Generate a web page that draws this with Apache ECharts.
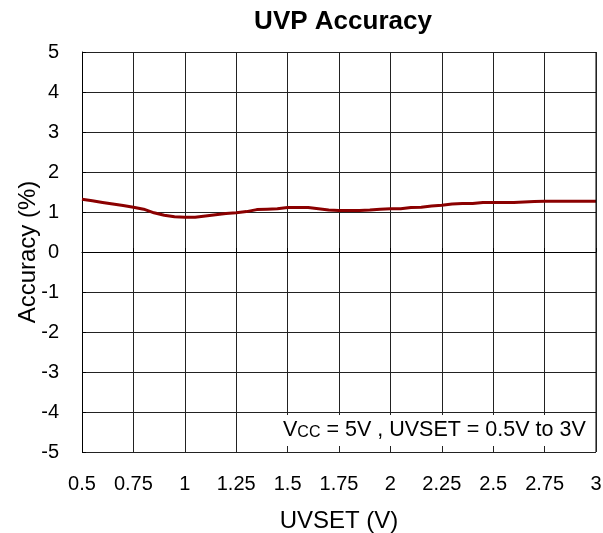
<!DOCTYPE html>
<html>
<head>
<meta charset="utf-8">
<style>
  html, body { margin: 0; padding: 0; background: #fff; }
  #chart { width: 603px; height: 533px; }
</style>
<script src="https://cdn.jsdelivr.net/npm/echarts@6/dist/echarts.min.js"></script>
</head>
<body>
<div id="chart"></div>
<script>
// UVSET 设定电压 (V)
var uvset = [
  0.5, 0.55, 0.6, 0.65, 0.7, 0.75, 0.8, 0.85, 0.9, 0.95,
  1.0, 1.05, 1.1, 1.15, 1.2, 1.25, 1.3, 1.35, 1.4, 1.45,
  1.5, 1.55, 1.6, 1.65, 1.7, 1.75, 1.8, 1.85, 1.9, 1.95,
  2.0, 2.05, 2.1, 2.15, 2.2, 2.25, 2.3, 2.35, 2.4, 2.45,
  2.5, 2.55, 2.6, 2.65, 2.7, 2.75, 2.8, 2.85, 2.9, 2.95, 3.0
];
// 精度 (%)
var accuracy = [
  1.32, 1.28, 1.24, 1.2, 1.16, 1.12, 1.07, 0.98, 0.92, 0.88,
  0.87, 0.87, 0.9, 0.93, 0.96, 0.98, 1.01, 1.06, 1.07, 1.08,
  1.11, 1.11, 1.11, 1.08, 1.05, 1.04, 1.04, 1.04, 1.05, 1.07,
  1.08, 1.08, 1.11, 1.12, 1.15, 1.17, 1.2, 1.21, 1.21, 1.24,
  1.24, 1.24, 1.24, 1.25, 1.26, 1.27, 1.27, 1.27, 1.27, 1.27, 1.27
];

var font = "'Liberation Sans', Arial, sans-serif";
var chart = echarts.init(document.getElementById("chart"));

chart.setOption({
  animation: false,
  title: {
    text: "UVP Accuracy",
    left: 338,
    textAlign: "center",
    top: 4,
    textStyle: { fontFamily: font, fontSize: 26, fontWeight: "bold", color: "#000" }
  },
  grid: { left: 82, right: 7, top: 52, bottom: 81, outerBoundsMode: "none" },
  xAxis: {
    type: "value",
    min: 0.5,
    max: 3,
    interval: 0.25,
    name: "UVSET (V)",
    nameLocation: "middle",
    nameGap: 57,
    nameMoveOverlap: false,
    nameTextStyle: { fontFamily: font, fontSize: 24, color: "#000" },
    axisLine: { lineStyle: { color: "#000", width: 1 } },
    axisTick: { inside: true, length: 4, lineStyle: { color: "#000" } },
    axisLabel: { fontFamily: font, fontSize: 20, color: "#000", margin: 22 },
    splitLine: { show: true, lineStyle: { color: "#222", width: 1 } }
  },
  yAxis: {
    type: "value",
    min: -5,
    max: 5,
    interval: 1,
    name: "Accuracy (%)",
    nameLocation: "middle",
    nameGap: 42,
    nameMoveOverlap: false,
    nameTextStyle: { fontFamily: font, fontSize: 24, color: "#000" },
    axisLine: { show: true, lineStyle: { color: "#000", width: 1 } },
    axisTick: { show: true, inside: true, length: 4, lineStyle: { color: "#000" } },
    axisLabel: { fontFamily: font, fontSize: 20, color: "#000", margin: 23 },
    splitLine: { show: true, lineStyle: { color: "#222", width: 1 } }
  },
  graphic: [
    {
      type: "rect",
      right: 8,
      top: 415,
      shape: { width: 314, height: 31 },
      style: { fill: "#fff" },
      z: 100
    },
    {
      type: "text",
      left: 283,
      top: 419,
      z: 101,
      style: {
        text: "{v|V}{s|CC}{v| = 5V , UVSET = 0.5V to 3V}",
        rich: {
          v: { fontFamily: font, fontSize: 21.5, fill: "#000" },
          s: { fontFamily: font, fontSize: 16, fill: "#000", padding: [5, 0, 0, 0] }
        }
      }
    },
    {
      type: "rect",
      right: 7,
      top: 52,
      shape: { width: 0.5, height: 400 },
      style: { fill: "#000" },
      z: 102
    }
  ],
  series: [
    {
      type: "line",
      data: uvset.map(function (x, i) { return [x, accuracy[i]]; }),
      showSymbol: false,
      smooth: false,
      lineStyle: { color: "#8B0000", width: 3 }
    }
  ]
});
</script>
</body>
</html>
